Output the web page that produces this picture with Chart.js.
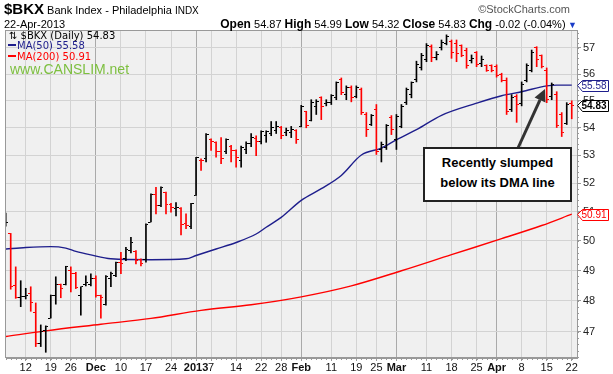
<!DOCTYPE html>
<html><head><meta charset="utf-8">
<script src="https://cdn.jsdelivr.net/npm/chart.js@4.4.1/dist/chart.umd.min.js"></script>
<style>
html,body{margin:0;padding:0;background:#fff;}
#wrap{position:relative;width:613px;height:374px;overflow:hidden;font-family:"Liberation Sans",Arial,sans-serif;color:#000;}
#c{position:absolute;left:0;top:0;}
.t{position:absolute;white-space:nowrap;line-height:1;}
.dv{font-family:"DejaVu Sans",Verdana,sans-serif;font-size:10px;}
.mk{display:inline-block;width:8px;height:2px;vertical-align:middle;margin-right:1px;position:relative;top:-1px;}
#note{position:absolute;left:423px;top:147px;width:145px;height:47px;border:2px solid #222;background:#fff;font-weight:bold;font-size:13px;text-align:center;line-height:20px;padding-top:4px;box-sizing:content-box;}
</style></head><body>
<div id="wrap">
<canvas id="c" width="613" height="374"></canvas>
<div class="t" style="left:4px;top:1px;"><span style="font-size:15px;font-weight:bold;">$BKX</span><span style="font-size:11px;"> Bank Index - Philadelphia </span><span style="font-size:10px;">INDX</span></div>
<div class="t" style="right:43px;top:4px;font-size:11px;color:#555;">&copy;StockCharts.com</div>
<div class="t" style="left:4px;top:19px;font-size:11px;">22-Apr-2013</div>
<div class="t" style="right:36px;top:18px;font-size:11px;"><b style="font-size:12px">Open</b> 54.87 <b style="font-size:12px">High</b> 54.99 <b style="font-size:12px">Low</b> 54.32 <b style="font-size:12px">Close</b> 54.83 <b style="font-size:12px">Chg</b> -0.02 (-0.04%)<span style="color:#1a3cc8;font-size:9px"> &#9660;</span></div>
<div class="t dv" style="left:9px;top:31px;">&#8645; $BKX (Daily) 54.83</div>
<div class="t dv" style="left:8px;top:41px;color:#1e1e8c;"><span class="mk" style="background:#1e1e8c"></span>MA(50) 55.58</div>
<div class="t dv" style="left:8px;top:52px;color:#ff0000;"><span class="mk" style="background:#ff0000"></span>MA(200) 50.91</div>
<div class="t" style="left:10px;top:62px;font-size:14px;color:#7dbf3f;">www.CANSLIM.net</div>
<div id="note">Recently slumped<br>below its DMA line</div>
</div>
<script>
// ---------- data ----------
const firstDay = '2012-11-06', lastDay = '2013-04-22';
const holidays = ['2012-11-22','2012-12-25','2013-01-01','2013-01-21','2013-02-18','2013-03-29'];

const openP = [50.80,50.25,48.49,48.10,48.15,48.24,47.63,46.63,47.04,47.44,48.16,48.52,48.52,49.01,48.89,48.16,48.55,48.55,48.72,48.17,
 47.89,48.72,48.83,49.28,49.39,49.67,49.64,49.37,49.35,50.64,51.60,51.21,51.65,51.24,51.12,51.12,50.58,50.49,51.56,52.82,
 52.86,53.55,53.45,53.14,53.11,53.32,53.17,52.79,53.20,53.42,53.59,53.50,53.70,53.78,53.88,54.00,53.81,53.81,53.90,54.04,
 54.58,54.26,54.78,55.10,54.88,54.92,55.11,55.81,55.22,55.50,55.14,55.40,54.48,54.11,54.66,53.20,53.27,54.37,53.56,54.04,
 54.92,55.22,55.81,56.23,56.54,57.04,56.65,57.00,57.16,57.27,57.16,57.08,56.92,56.50,56.81,56.42,56.31,56.31,56.27,55.99,
 55.77,54.66,55.14,54.88,55.77,56.15,57.00,56.69,56.15,55.14,55.22,54.48,54.15,54.87];
const highP = [50.95,50.25,49.12,48.66,48.41,48.46,47.93,47.22,47.19,48.19,48.79,48.55,49.14,49.12,48.94,48.46,48.82,48.89,48.82,48.19,
 48.83,48.95,49.28,49.61,49.78,50.12,49.67,49.39,50.58,51.62,51.85,51.87,51.68,51.29,51.31,51.14,50.92,51.29,52.92,52.86,
 53.78,53.59,53.48,53.63,53.59,53.35,53.19,53.32,53.48,53.78,53.70,53.88,53.88,54.22,54.22,54.04,53.98,54.04,53.92,54.82,
 54.60,55.03,55.03,55.14,55.03,55.22,55.70,55.85,55.55,55.55,55.55,55.47,54.55,54.48,54.85,53.47,54.11,54.44,54.48,54.85,
 55.47,55.70,56.49,56.79,57.17,57.12,56.86,57.31,57.51,57.31,57.31,57.12,56.99,56.73,56.86,56.69,56.35,56.35,56.35,56.03,
 55.85,55.22,55.22,55.70,56.39,56.92,57.05,56.73,56.23,55.66,55.33,54.55,54.92,54.99];
const lowP = [50.50,48.38,48.08,47.81,48.06,47.66,46.53,46.53,46.35,47.44,47.89,48.10,48.52,48.29,48.40,47.53,48.49,48.49,48.12,47.44,
 47.86,48.46,48.79,48.89,49.33,49.59,49.22,49.15,49.28,50.64,50.92,51.17,50.92,50.98,50.85,50.20,50.41,50.41,51.56,52.45,
 52.75,53.17,52.92,52.69,53.05,52.75,52.56,52.56,53.05,53.30,52.98,53.40,53.46,53.70,53.78,53.59,53.70,53.63,53.42,54.02,
 53.99,54.24,54.48,54.29,54.80,54.85,55.03,55.22,55.03,54.95,55.10,54.48,53.67,54.07,53.02,52.75,53.20,53.74,53.20,53.99,
 54.85,55.10,55.70,56.15,56.47,56.47,56.54,56.92,57.12,56.60,56.47,56.66,56.22,56.42,56.28,56.28,56.10,56.08,55.88,55.70,
 54.48,54.59,54.19,54.80,55.70,56.08,56.28,56.23,54.92,55.03,54.00,53.67,54.11,54.32];
const closeP = [50.62,48.46,48.10,48.15,48.18,47.93,46.63,47.00,47.18,48.17,48.55,48.39,49.12,48.90,48.42,48.46,48.61,48.72,48.16,48.12,
 48.81,48.90,49.26,49.22,49.72,49.93,49.33,49.22,50.57,51.60,51.21,51.85,51.24,51.14,51.15,50.55,50.52,51.27,52.90,52.79,
 53.75,53.50,53.14,52.87,53.55,53.17,52.91,53.28,53.42,53.63,53.50,53.85,53.86,54.00,54.05,53.70,53.88,53.91,53.55,54.78,
 54.09,54.92,54.95,54.78,54.92,55.18,55.66,55.29,55.48,55.11,55.48,54.55,53.93,54.44,53.13,53.38,54.07,53.93,54.40,54.77,
 55.40,55.66,56.38,56.69,57.08,56.65,56.73,57.23,57.43,56.84,56.80,56.70,56.31,56.58,56.38,56.54,56.15,56.13,55.96,55.77,
 54.59,55.11,54.85,55.62,56.31,56.84,56.54,56.27,55.03,55.59,54.07,53.82,54.85,54.83];

const ma50Dates = ['2012-11-06','2012-11-12','2012-11-19','2012-11-23','2012-11-27','2012-11-30','2012-12-06','2012-12-18','2012-12-28',
 '2013-01-02','2013-01-08','2013-01-14','2013-01-18','2013-01-23','2013-01-28','2013-02-01','2013-02-07','2013-02-13','2013-02-20',
 '2013-02-26','2013-03-01','2013-03-07','2013-03-14','2013-03-25','2013-04-02','2013-04-08','2013-04-15','2013-04-17','2013-04-22'];
const ma50Values = [49.72,49.77,49.80,49.75,49.64,49.52,49.39,49.36,49.39,49.50,49.72,49.94,50.23,50.46,50.80,51.39,51.80,52.27,53.00,
 53.25,53.55,53.92,54.45,54.90,55.18,55.33,55.55,55.58,55.58];
const ma200Dates = ['2012-11-06','2012-11-16','2012-12-04','2012-12-18','2013-01-03','2013-01-17','2013-02-01','2013-02-15','2013-03-04',
 '2013-03-18','2013-04-02','2013-04-12','2013-04-22'];
const ma200Values = [46.85,47.03,47.24,47.43,47.69,47.87,48.13,48.49,48.99,49.53,50.07,50.52,50.91];

const tickDates = ['2012-11-12','2012-11-19','2012-11-26','2012-12-03','2012-12-10','2012-12-17','2012-12-24','2013-01-02','2013-01-07',
 '2013-01-14','2013-01-22','2013-01-28','2013-02-01','2013-02-11','2013-02-19','2013-02-25','2013-03-01','2013-03-11','2013-03-18',
 '2013-03-25','2013-04-01','2013-04-08','2013-04-15','2013-04-22'];
const tickLabels = ['12','19','26','Dec','10','17','24','2013','7','14','22','28','Feb','11','19','25','Mar','11','18','25','Apr','8','15','22'];
const boldLabels = ['Dec','2013','Feb','Mar','Apr'];
const yTicks = [47,48,49,50,51,52,53,54,55,56,57];
const lastClose = 54.83, lastMa50 = 55.58, lastMa200 = 50.91;

// ---------- build ----------
function tradingDays(){
  const out=[]; let d=new Date(firstDay+'T12:00:00Z'); const end=new Date(lastDay+'T12:00:00Z');
  while(d<=end){ const wd=d.getUTCDay(); const s=d.toISOString().slice(0,10);
    if(wd!==0 && wd!==6 && !holidays.includes(s)) out.push(s);
    d=new Date(d.getTime()+86400000); }
  return out;
}
const days = tradingDays();
const idx = s => days.indexOf(s);
const tickIdx = tickDates.map(idx);
const labelByIdx = {}; const boldIdx = new Set();
tickIdx.forEach((v,i)=>{ labelByIdx[v]=tickLabels[i]; if(boldLabels.includes(tickLabels[i])) boldIdx.add(v); });

const RED='#ff0000', BLK='#000000';
const colors = closeP.map((c,i)=> (i>0 && c<closeP[i-1]) ? RED : BLK);
function tickImg(color, side){
  const c=document.createElement('canvas'); c.width=5; c.height=1;
  const g=c.getContext('2d'); g.fillStyle=color;
  if(side==='L') g.fillRect(0,0,2,1); else g.fillRect(3,0,2,1);
  return c;
}
const imgs = {L:{[RED]:tickImg(RED,'L'),[BLK]:tickImg(BLK,'L')}, R:{[RED]:tickImg(RED,'R'),[BLK]:tickImg(BLK,'R')}};

const hlData = days.map((d,i)=>({x:i, y:[lowP[i], highP[i]]}));
const oData = days.map((d,i)=>({x:i, y:openP[i]}));
const cData = days.map((d,i)=>({x:i, y:closeP[i]}));
const ma50Data = ma50Dates.map((d,i)=>({x:idx(d), y:ma50Values[i]}));
const ma200Data = ma200Dates.map((d,i)=>({x:idx(d), y:ma200Values[i]}));

const bgPlugin = {
  id:'bg',
  beforeDraw(chart){
    const a=chart.chartArea, g=chart.ctx;
    g.save(); g.fillStyle='#f0f0f0'; g.fillRect(a.left,a.top,a.right-a.left,a.bottom-a.top); g.restore();
  }
};
const overlay = {
  id:'overlay',
  afterDraw(chart){
    const a=chart.chartArea, g=chart.ctx, xs=chart.scales.x, ys=chart.scales.y;
    g.save();
    g.strokeStyle='#999'; g.lineWidth=1;
    g.strokeRect(Math.round(a.left)-0.5, Math.round(a.top)+0.5, Math.round(a.right-a.left)+1, Math.round(a.bottom-a.top)-1);
    g.fillStyle='#999';
    for(let i=0;i<days.length;i++){ const px=Math.round(xs.getPixelForValue(i)); if(px>=a.left&&px<=a.right) g.fillRect(px,Math.round(a.bottom),1,2); }
    for(let v=46.2; v<57.7; v+=0.2){ const py=Math.round(ys.getPixelForValue(v)); g.fillRect(Math.round(a.right),py,2,1); }
    // arrow
    const tail=[518,148], tip=[545,89];
    const dx=tip[0]-tail[0], dy=tip[1]-tail[1], L=Math.hypot(dx,dy), ux=dx/L, uy=dy/L, hl=12, hw=6;
    const bx=tip[0]-ux*hl, by=tip[1]-uy*hl;
    g.strokeStyle='#333'; g.fillStyle='#333'; g.lineWidth=3;
    g.beginPath(); g.moveTo(tail[0],tail[1]); g.lineTo(bx,by); g.stroke();
    g.beginPath(); g.moveTo(tip[0],tip[1]); g.lineTo(bx-uy*hw, by+ux*hw); g.lineTo(bx+uy*hw, by-ux*hw); g.closePath(); g.fill();
    // value tags
    const tags=[{v:lastMa50,c:'#1e1e8c',b:false},{v:lastClose,c:'#000',b:true},{v:lastMa200,c:'#ff0000',b:false}];
    tags.forEach(t=>{
      const y=Math.round(ys.getPixelForValue(t.v))+0.5, x0=Math.round(a.right)+0.5;
      g.beginPath(); g.moveTo(x0,y); g.lineTo(x0+5,y-5); g.lineTo(x0+31,y-5); g.lineTo(x0+31,y+6); g.lineTo(x0+5,y+6); g.closePath();
      g.fillStyle='#fff'; g.fill(); g.lineWidth=1; g.strokeStyle=t.c; g.stroke();
      g.fillStyle=t.c; g.font=(t.b?'bold ':'')+'10px "Liberation Sans", Arial'; g.textBaseline='middle'; g.textAlign='left';
      g.fillText(t.v.toFixed(2), x0+4, y+1);
    });
    g.restore();
  }
};

new Chart(document.getElementById('c'), {
  type:'bar',
  data:{datasets:[
    {type:'line', data:ma50Data, borderColor:'#1e1e8c', borderWidth:1.4, pointRadius:0, cubicInterpolationMode:'monotone', order:5},
    {type:'line', data:ma200Data, borderColor:'#ff0000', borderWidth:1.4, pointRadius:0, cubicInterpolationMode:'monotone', order:5},
    {type:'bar', data:hlData, backgroundColor:colors, borderWidth:0, barThickness:1, order:2},
    {type:'scatter', data:oData, pointStyle:(c)=>imgs.L[colors[c.dataIndex]], pointRadius:1, order:1},
    {type:'scatter', data:cData, pointStyle:(c)=>imgs.R[colors[c.dataIndex]], pointRadius:1, order:1}
  ]},
  options:{
    responsive:false, animation:false, events:[],
    layout:{padding:{left:6, top:30, right:0, bottom:0}},
    plugins:{legend:{display:false}, tooltip:{enabled:false}},
    scales:{
      x:{type:'linear', min:0.06, max:114.05, offset:false,
        afterBuildTicks:(s)=>{ s.ticks = tickIdx.map(v=>({value:v})); },
        afterFit:(s)=>{ s.height = 16; },
        ticks:{autoSkip:false, maxRotation:0, padding:0, color:'#111',
          font:(c)=>({family:'"Liberation Sans", Arial', size:11, weight:(c.tick && boldIdx.has(c.tick.value))?'bold':'normal'}),
          callback:(v)=>labelByIdx[v]},
        grid:{offset:false, color:(c)=>(c.tick && boldIdx.has(c.tick.value))?'#aaaaaa':'#d3d3d3', drawTicks:true, tickLength:3, tickColor:'#999'},
        border:{display:true, color:'#999'}
      },
      y:{type:'logarithmic', position:'right', min:46.17, max:57.70,
        afterBuildTicks:(s)=>{ s.ticks = yTicks.map(v=>({value:v})); },
        afterFit:(s)=>{ s.width = 36; },
        ticks:{callback:(v)=>String(v), font:{family:'"Liberation Sans", Arial', size:11}, color:'#222', padding:2},
        grid:{color:'#d3d3d3', tickLength:4, tickColor:'#999'},
        border:{display:true, color:'#999'}
      }
    }
  },
  plugins:[bgPlugin, overlay]
});
</script>
</body></html>
